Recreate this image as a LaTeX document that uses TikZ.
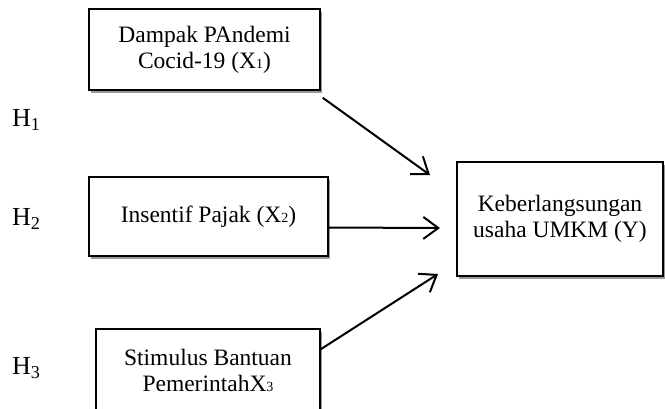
\documentclass[tikz,border=0pt]{standalone}
\usepackage{fontspec}
\setmainfont{Liberation Serif}
\usepackage{tikz}
\usetikzlibrary{positioning,shapes,shadows,arrows.meta}

\newcommand{\smalldigit}[1]{{\fontsize{14}{14}\selectfont #1}}

\begin{document}
\begin{tikzpicture}[x=1pt,y=-1pt,
  varbox/.style={draw, line width=1.5pt, fill=white, align=center, inner sep=0pt,
    font=\fontsize{23.5}{26}\selectfont,
    drop shadow={shadow xshift=2pt, shadow yshift=-3pt, opacity=.4, fill=black}},
  hlabel/.style={anchor=west, inner sep=0pt, font=\fontsize{26}{26}\selectfont},
  link/.style={line width=2pt, -{Straight Barb[length=15pt,width=22pt,line width=2pt]}}]
\useasboundingbox (0,0) rectangle (665,408);
% variables
\node [varbox, minimum width=231pt, minimum height=81pt] (x1) at (204.5,49.5) {Dampak PAndemi\\Cocid-19 (X\smalldigit{1})};
\node [varbox, minimum width=239pt, minimum height=79pt] (x2) at (208.5,216.5) {Insentif Pajak (X\smalldigit{2})};
\node [varbox, minimum width=224pt, minimum height=82pt] (x3) at (208,370) {Stimulus Bantuan\\PemerintahX\smalldigit{3}};
\node [varbox, minimum width=206pt, minimum height=114pt] (y) at (560,219) {Keberlangsungan\\usaha UMKM (Y)};
% hypotheses
\node [hlabel] (h1) at (12,120) {H\textsubscript{1}};
\node [hlabel] (h2) at (12,219) {H\textsubscript{2}};
\node [hlabel] (h3) at (12,368) {H\textsubscript{3}};
% arrow tips
\coordinate (t1) at (430,175);
\coordinate (t2) at (440,228);
\coordinate (t3) at (438,274);
\draw [link] ([shift={(2,7)}]x1.south east) -- (t1);
\draw [link] ([yshift=-11pt]x2.east) -- (t2);
\draw [link] ([yshift=-21pt]x3.north east) -- (t3);
\end{tikzpicture}
\end{document}
